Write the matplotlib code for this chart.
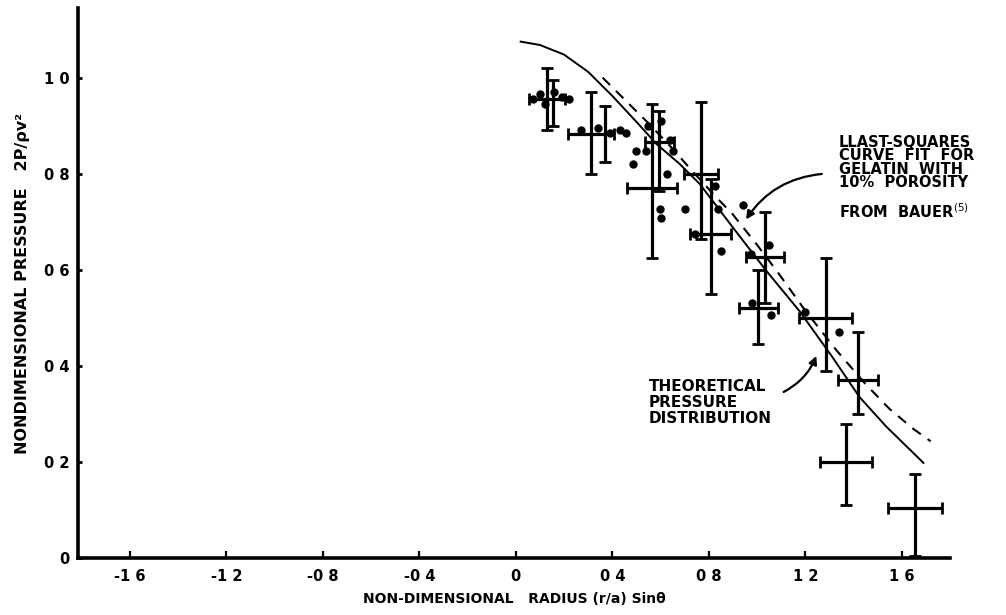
import matplotlib
matplotlib.use("Agg")
import matplotlib.pyplot as plt

# ---- data ----
theory_x = [0.02, 0.10, 0.20, 0.30, 0.40, 0.50, 0.583, 0.68, 0.762, 0.90, 1.04, 1.176, 1.31, 1.425, 1.535, 1.69]
theory_y = [1.075, 1.068, 1.048, 1.012, 0.962, 0.908, 0.862, 0.820, 0.779, 0.688, 0.597, 0.514, 0.420, 0.335, 0.274, 0.198]

lsq_x = [0.36, 0.45, 0.55, 0.65, 0.72, 0.82, 0.90, 1.00, 1.09, 1.20, 1.33, 1.45, 1.55, 1.65, 1.72]
lsq_y = [1.000, 0.955, 0.905, 0.852, 0.812, 0.757, 0.715, 0.652, 0.592, 0.515, 0.432, 0.362, 0.310, 0.268, 0.243]

# crosses: centre, half-width, vertical extent
cross_x   = [0.13, 0.155, 0.31, 0.37, 0.595, 0.565, 0.768, 0.808, 1.034, 1.005, 1.285, 1.42, 1.37, 1.655]
cross_y   = [0.955, 0.95, 0.883, 0.88, 0.865, 0.77, 0.80, 0.675, 0.626, 0.52, 0.50, 0.37, 0.20, 0.105]
cross_xe  = [0.075, 0.0, 0.095, 0.0, 0.06, 0.103, 0.07, 0.085, 0.078, 0.08, 0.11, 0.083, 0.108, 0.11]
cross_lo  = [0.89, 0.90, 0.80, 0.825, 0.765, 0.625, 0.665, 0.55, 0.53, 0.445, 0.39, 0.30, 0.11, 0.005]
cross_hi  = [1.02, 0.995, 0.97, 0.94, 0.93, 0.945, 0.95, 0.79, 0.72, 0.60, 0.625, 0.47, 0.28, 0.175]

dots_x = [0.07, 0.10, 0.12, 0.16, 0.19, 0.22, 0.27, 0.34, 0.39, 0.43, 0.455,
          0.50, 0.54, 0.485, 0.625, 0.596, 0.603, 0.70, 0.65, 0.64, 0.55, 0.60,
          0.824, 0.837, 0.94, 0.852, 0.741, 1.05, 0.976, 1.06, 0.98, 1.197, 1.34]
dots_y = [0.955, 0.965, 0.945, 0.97, 0.96, 0.955, 0.89, 0.895, 0.885, 0.89, 0.885,
          0.848, 0.848, 0.82, 0.80, 0.726, 0.707, 0.726, 0.848, 0.87, 0.90, 0.91,
          0.775, 0.726, 0.734, 0.64, 0.675, 0.652, 0.633, 0.505, 0.53, 0.512, 0.47]

xticks = [-1.6, -1.2, -0.8, -0.4, 0.0, 0.4, 0.8, 1.2, 1.6]
xtick_labels = ["-1 6", "-1 2", "-0 8", "-0 4", "0", "0 4", "0 8", "1 2", "1 6"]
yticks = [0.0, 0.2, 0.4, 0.6, 0.8, 1.0]
ytick_labels = ["0", "0 2", "0 4", "0 6", "0 8", "1 0"]

# ---- figure ----
fig = plt.figure(figsize=(10.06, 6.15), dpi=100)
ax = fig.add_axes([78/1006, 1-558/615, (950-78)/1006, (558-8)/615])
ax.set_xlim(-1.815, 1.80)
ax.set_ylim(0, 1.145)

for s in ("top", "right"):
    ax.spines[s].set_visible(False)
for s in ("left", "bottom"):
    ax.spines[s].set_linewidth(2.6)

ax.plot(theory_x, theory_y, color="black", lw=1.4)
ax.plot(lsq_x, lsq_y, color="black", lw=1.5, ls=(0, (5, 4)))

yerr = [[c - l for c, l in zip(cross_y, cross_lo)], [h - c for c, h in zip(cross_y, cross_hi)]]
ax.errorbar(cross_x, cross_y, xerr=cross_xe, yerr=yerr, fmt="none",
            ecolor="black", elinewidth=2.3, capsize=4.5, capthick=2.0)
ax.plot(dots_x, dots_y, "o", color="black", ms=5)

ax.set_xticks(xticks)
ax.set_xticklabels(xtick_labels, fontsize=10.5, fontweight="bold")
ax.set_yticks(yticks)
ax.set_yticklabels(ytick_labels, fontsize=10.5, fontweight="bold")
ax.tick_params(axis="x", direction="in", length=5, width=1.6, pad=8)
ax.tick_params(axis="y", direction="in", length=3, width=2.0, pad=6)

ax.set_xlabel("NON-DIMENSIONAL   RADIUS (r/a) Sin\u03b8", fontsize=10, fontweight="bold", labelpad=6)
ax.set_ylabel("NONDIMENSIONAL PRESSURE   2P/\u03c1v\u00b2", fontsize=11.5, fontweight="bold", labelpad=10)

ax.text(1.34, 0.880, "LLAST-SQUARES\nCURVE  FIT  FOR\nGELATIN  WITH\n10%  POROSITY",
        fontsize=10.5, fontweight="bold", va="top", ha="left", linespacing=0.85)
ax.text(1.34, 0.722, "FROM  BAUER$^{(5)}$", fontsize=10.5, fontweight="bold", va="center", ha="left")
ax.annotate("", xy=(0.948, 0.70), xytext=(1.28, 0.80),
            arrowprops=dict(arrowstyle="-|>", color="black", lw=1.6,
                            connectionstyle="arc3,rad=0.25", mutation_scale=12))

ax.text(0.55, 0.372, "THEORETICAL\nPRESSURE\nDISTRIBUTION", fontsize=11, fontweight="bold",
        va="top", ha="left", linespacing=1.05)
ax.annotate("", xy=(1.25, 0.426), xytext=(1.10, 0.343),
            arrowprops=dict(arrowstyle="-|>", color="black", lw=1.6,
                            connectionstyle="arc3,rad=0.2", mutation_scale=12))

fig.savefig("out.png", dpi=100)
